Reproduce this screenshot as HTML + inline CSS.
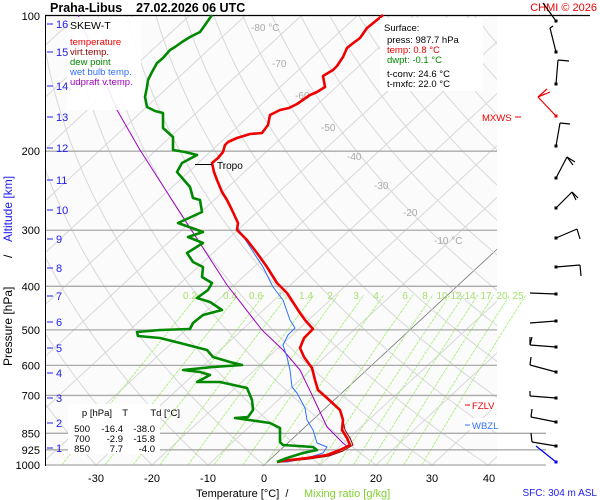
<!DOCTYPE html>
<html><head><meta charset="utf-8"><style>
body{margin:0;background:#fff;}
svg{display:block;font-family:"Liberation Sans",sans-serif;}
</style></head><body>
<svg id="s" width="600" height="500" viewBox="0 0 600 500" xmlns="http://www.w3.org/2000/svg">
<defs><clipPath id="c"><rect x="45" y="16" width="452" height="450"/></clipPath>
<clipPath id="c2"><rect x="45" y="16" width="500" height="450"/></clipPath></defs>
<rect x="45" y="16" width="452" height="450" fill="#fbfbfb"/>
<g id="grid" clip-path="url(#c)"></g>
<g id="mr" clip-path="url(#c2)"></g>
<g id="hl" stroke="#aaa" stroke-width="1.3"></g>
<line x1="45" y1="15.5" x2="590" y2="15.5" stroke="#000" stroke-width="1.2"/>
<line x1="45.5" y1="16" x2="45.5" y2="466" stroke="#000" stroke-width="1"/>
<g id="lbl" font-size="10" fill="#aaa"></g>
<g fill="none" stroke-linejoin="round">
<polyline stroke="#a000c0" stroke-width="1" points="78,15 117,110 140,150 172,200 227,285 262,330 283,350 300,370 313,397 327,427 343,443 348,447"/>
<polyline stroke="#3070ff" stroke-width="1" points="237,227 250,247 263,267 273,287 283,300 290,320 295,328 288,335 283,345 287,357 290,370 292,387 297,393 305,408 307,420 313,430 317,443 327,447 323,453 307,458 287,462 278,462"/>
<polyline stroke="#900000" stroke-width="1" points="343,420 345,430 350,438 353,445 343,451 329,456 309,459 290,461"/>
<polyline stroke="#ee0000" stroke-width="2.6" points="383,15 372,24 367,28 360,38 352,44 347,48 343,57 337,66 333,70 323,76 325,87 317,92 310,95 297,104 289,108 280,110 270,115 268,125 262,133 250,134 237,138 228,142 225,145 223,152 218,158 212,163 214,172 217,180 222,192 227,200 232,210 238,223 237,230 247,240 257,253 267,267 277,283 287,293 300,313 305,320 313,329 304,338 300,348 304,357 312,368 315,380 318,390 327,398 340,410 343,420 342,430 347,438 350,445 340,450 327,455 307,458 290,460 277,462"/>
<polyline stroke="#008800" stroke-width="2.6" points="212,15 205,25 200,32 190,37 182,42 175,47 170,50 163,58 157,63 152,72 148,80 147,87 145,97 147,107 155,111 163,113 163,128 173,137 173,150 185,152 197,155 182,163 177,172 190,187 193,198 200,200 202,212 178,223 203,232 188,237 203,243 187,253 193,262 203,267 202,277 212,283 208,290 197,298 210,302 222,310 203,315 193,323 190,329 160,330 137,332 138,336 160,338 180,343 207,350 213,357 230,362 242,365 213,367 183,370 200,372 210,375 197,382 220,382 247,388 252,400 253,410 248,417 235,418 270,423 280,428 280,442 283,445 313,447 317,450 303,453 287,458 277,462"/>
</g>
<line x1="195" y1="164.5" x2="212" y2="164.5" stroke="#000"/>
<text x="217" y="169" font-size="10" fill="#000">Tropo</text>
<rect x="67" y="17" width="74" height="93" fill="#fff" opacity="0.9"/>
<g font-size="9.5">
<text x="70" y="29" fill="#000" font-size="10.5">SKEW-T</text>
<text x="70" y="45" fill="#ee0000">temperature</text>
<text x="70" y="55" fill="#900000">virt.temp.</text>
<text x="70" y="65" fill="#008800">dew point</text>
<text x="70" y="75" fill="#3070ff">wet bulb temp.</text>
<text x="70" y="85" fill="#a000c0">udpraft v.temp.</text>
</g>
<rect x="380" y="18" width="103" height="73" fill="#fff"/>
<g font-size="9.5">
<text x="384" y="31" fill="#000">Surface:</text>
<text x="387" y="43" fill="#000">press: 987.7 hPa</text>
<text x="387" y="53" fill="#ee0000">temp: 0.8 °C</text>
<text x="387" y="63" fill="#008800">dwpt: -0.1 °C</text>
<text x="387" y="77" fill="#000">t-conv: 24.6 °C</text>
<text x="387" y="87" fill="#000">t-mxfc: 22.0 °C</text>
</g>
<rect x="68" y="404" width="92" height="50" fill="#fff"/>
<g font-size="9.5" fill="#000" text-anchor="end">
<text x="112" y="416">p [hPa]</text><text x="128" y="416">T</text><text x="180" y="416">Td [°C]</text>
<text x="90" y="432">500</text><text x="123" y="432">-16.4</text><text x="155" y="432">-38.0</text>
<text x="90" y="442">700</text><text x="123" y="442">-2.9</text><text x="155" y="442">-15.8</text>
<text x="90" y="452">850</text><text x="123" y="452">7.7</text><text x="155" y="452">-4.0</text>
</g>
<rect x="468" y="398" width="30" height="12" fill="#fff"/>
<rect x="468" y="418" width="30" height="12" fill="#fff"/>
<text x="472" y="409" font-size="9.5" fill="#ee0000">FZLV</text>
<line x1="465" y1="405" x2="470" y2="405" stroke="#ee0000"/>
<text x="472" y="429" font-size="9.5" fill="#3070ff">WBZL</text>
<line x1="465" y1="425" x2="470" y2="425" stroke="#3070ff"/>
<text x="482" y="121" font-size="9.5" fill="#ee0000">MXWS</text>
<line x1="515" y1="117" x2="521" y2="117" stroke="#ee0000"/>
<g font-size="11" fill="#000" text-anchor="end" id="pl"></g>
<g font-size="11" fill="#2020ee" id="km"></g>
<g font-size="11" fill="#000" text-anchor="middle">
<text x="96" y="482">-30</text><text x="152" y="482">-20</text><text x="208" y="482">-10</text><text x="264" y="482">0</text><text x="320" y="482">10</text><text x="376" y="482">20</text><text x="432" y="482">30</text><text x="489" y="482">40</text>
</g>
<text x="196" y="497" font-size="11" fill="#000" xml:space="preserve">Temperature [°C]  /</text>
<text x="304" y="497" font-size="11" fill="#7fd030">Mixing ratio [g/kg]</text>
<text x="597" y="496" font-size="10" fill="#2020ee" text-anchor="end">SFC: 304 m ASL</text>
<text x="50" y="12" font-size="12.5" font-weight="bold" fill="#000" xml:space="preserve">Praha-Libus    27.02.2026 06 UTC</text>
<text x="597" y="11" font-size="11" fill="#ee0000" text-anchor="end">CHMI © 2026</text>
<g transform="translate(12,262) rotate(-90)" font-size="12">
<text x="-104" y="0" fill="#000">Pressure [hPa]</text>
<text x="4" y="0" fill="#000">/</text>
<text x="20" y="0" fill="#2020ee">Altitude [km]</text>
</g>
<g id="wind" stroke="#000" stroke-width="1.2" fill="none"></g>
</svg>
<script>
var NS="http://www.w3.org/2000/svg";
function el(p,t,a,txt){var e=document.createElementNS(NS,t);for(var k in a)e.setAttribute(k,a[k]);if(txt!=null)e.textContent=txt;document.getElementById(p).appendChild(e);return e;}
function Y(p){return 16+195*Math.log(p/100);}
function X(T,p){return 264+5.6*T+1.08*(465-Y(p));}
for(var T=-160;T<=60;T+=10){el("grid","line",{x1:X(T,1050),y1:Y(1050),x2:X(T,90),y2:Y(90),stroke:T==0?"#777":"#d8d8d8","stroke-width":T==0?0.8:1});}
for(var th=-40;th<=220;th+=10){var pts=[];for(var p=1050;p>=90;p-=10){var t=(th+273.15)*Math.pow(p/1000,0.286)-273.15;pts.push(X(t,p).toFixed(1)+","+Y(p).toFixed(1));}
el("grid","polyline",{points:pts.join(" "),fill:"none",stroke:"#d8d8d8","stroke-width":1});}
var ws=[0.2,0.4,0.6,1,1.4,2,3,4,6,8,10,12,14,17,20,25];
var lx=[190,230,256,280,306,330,356,376,405,425,442,456,470,486,502,518];
ws.forEach(function(w,i){var e0=w*418/(622+w),l0=Math.log(e0/6.112),td0=243.5*l0/(17.67-l0);var off=(lx[i]+8)-X(td0,418);
var pts=[];for(var p=1000;p>=418;p-=6){var e=w*p/(622+w);var l=Math.log(e/6.112);var td=243.5*l/(17.67-l);pts.push((X(td,p)+off).toFixed(1)+","+Y(p).toFixed(1));}
el("mr","polyline",{points:pts.join(" "),fill:"none",stroke:"#a8f07c","stroke-width":0.9,"stroke-dasharray":"3,1"});
el("lbl","text",{x:lx[i],y:299,fill:"#a8e070","font-size":10,"text-anchor":"middle"},String(w));});
[["-80 °C",251,31],["-70",272,67],["-60",295,99],["-50",321,131],["-40",347,160],["-30",374,189],["-20",403,216],["-10 °C",434,244]].forEach(function(a){el("lbl","text",{x:a[1],y:a[2]},a[0]);});
[200,300,400,500,600,700].forEach(function(p){el("hl","line",{x1:45,y1:Y(p),x2:497,y2:Y(p)});});
[850,925,1000].forEach(function(p){el("hl","line",{x1:45,y1:Y(p),x2:546,y2:Y(p)});});
[100,200,300,400,500,600,700,850,925,1000].forEach(function(p){el("pl","text",{x:40,y:Y(p)+4},String(p));});
var kmY=[448,423,398,373,348,322,296,268,239,210,180,148,117,86,52,24];
kmY.forEach(function(y,i){el("km","line",{x1:47,y1:y,x2:53,y2:y,stroke:"#2020ee"});el("km","text",{x:56,y:y+4},String(i+1));});
var W=[[21,[543,3],[]],[52,[550,28],[[553,26]]],[84,[558,60],[[569,61]]],[116,[538,97],[[547,89],[550,92],[545,94]],"#ee0000"],[146,[560,123],[[570,124]]],[178,[567,157],[[575,162],[573,165]]],[208,[572,192],[[578,198],[576,200]]],[238,[577,229],[[580,239]]],[267,[580,265],[[581,276]]],[294,[530,293],[]],[321,[530,323],[]],[347,[530,345],[[530,337],[532,337]]],[372,[530,365],[[531,357]]],[398,[530,396],[[530,391]]],[422,[531,417],[[532,409]]],[446,[532,442],[[531,433]]],[462,[536,446],[],"#0000ee"]];
W.forEach(function(w){var c=w[3]||"#000";var bx=556,by=w[0];
el("wind","line",{x1:bx,y1:by,x2:w[1][0],y2:w[1][1],stroke:c});
w[2].forEach(function(b){el("wind","line",{x1:w[1][0],y1:w[1][1],x2:b[0],y2:b[1],stroke:c});});
el("wind","rect",{x:bx-1.5,y:by-1.5,width:3,height:3,fill:c,stroke:"none"});});
</script>
</body></html>
